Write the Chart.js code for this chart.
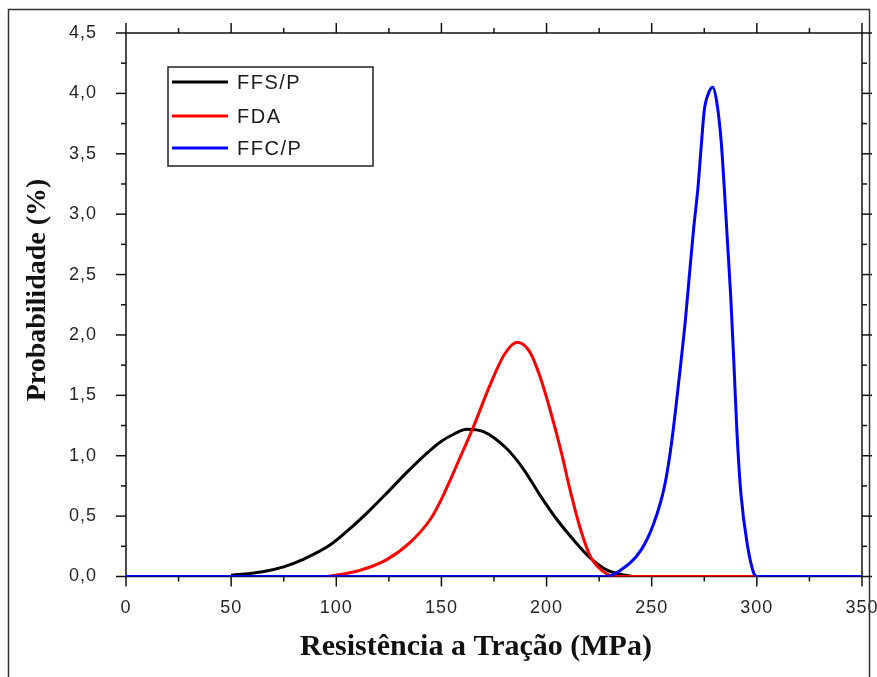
<!DOCTYPE html>
<html>
<head>
<meta charset="utf-8">
<title>Probabilidade x Resistência a Tração</title>
<script src="https://cdn.jsdelivr.net/npm/chart.js@4/dist/chart.umd.min.js"></script>
<style>
  html, body { margin: 0; padding: 0; background: #fff; }
  #wrap { width: 877px; height: 677px; }
</style>
</head>
<body>
<div id="wrap"><canvas id="probChart" width="877" height="677"></canvas></div>
<script>
// --- Data ---
const seriesLabels = ['FFS/P', 'FDA', 'FFC/P'];
const seriesColors = ['#000000', '#ff0000', '#0000ff'];

const ffspX = [50, 65, 75, 84, 97, 108, 116, 124, 134, 143, 150, 156, 162, 170, 181, 189, 197, 205, 213, 221, 229, 235, 241];
const ffspY = [0.01, 0.04, 0.08, 0.14, 0.26, 0.42, 0.55, 0.69, 0.87, 1.02, 1.12, 1.18, 1.22, 1.20, 1.06, 0.89, 0.67, 0.47, 0.30, 0.15, 0.05, 0.02, 0.0];

const fdaX = [96, 111, 124, 135, 145, 150, 158, 165, 173, 180, 186, 192, 197, 202, 207, 211, 216, 221, 227, 233, 300];
const fdaY = [0.0, 0.05, 0.14, 0.28, 0.48, 0.64, 0.95, 1.23, 1.58, 1.84, 1.94, 1.86, 1.65, 1.36, 1.03, 0.73, 0.40, 0.16, 0.04, 0.0, 0.0];

const ffcpX = [0, 228, 235, 245, 251, 256, 259, 261.5, 264, 266, 268, 270, 272, 273.5, 275, 277, 279, 281, 283, 284.5, 286, 287.6, 289, 290.5, 292.4, 295.6, 298.7, 300, 350];
const ffcpY = [0, 0, 0.05, 0.22, 0.44, 0.74, 1.05, 1.40, 1.79, 2.12, 2.51, 2.89, 3.22, 3.55, 3.86, 4.00, 4.05, 3.92, 3.61, 3.22, 2.78, 2.31, 1.80, 1.21, 0.69, 0.25, 0.02, 0, 0];

const xMin = 0, xMax = 350, xMajor = 50, xMinor = 25;
const yMin = 0, yMax = 4.5, yMajor = 0.5, yMinor = 0.25;

const xTitle = 'Resistência a Tração (MPa)';
const yTitle = 'Probabilidade (%)';

const toPoints = (xs, ys) => xs.map((x, i) => ({ x: x, y: ys[i] }));
const seriesData = [toPoints(ffspX, ffspY), toPoints(fdaX, fdaY), toPoints(ffcpX, ffcpY)];

// --- Frame, mirrored ticks (drawn under the curves) ---
const framePlugin = {
    id: 'frame',
    beforeDraw(chart) {
        // slightly spaced tick labels like the original
        if ('letterSpacing' in chart.ctx) chart.ctx.letterSpacing = '1px';
    },
    beforeDatasetsDraw(chart) {
        const ctx = chart.ctx;
        const a = chart.chartArea;
        const xs = chart.scales.x, ys = chart.scales.y;
        ctx.save();
        ctx.strokeStyle = '#333';
        ctx.lineWidth = 1.5;
        ctx.strokeRect(8.5, 9.5, 861, 720);

        ctx.strokeStyle = '#111';
        ctx.strokeRect(a.left, a.top, a.right - a.left, a.bottom - a.top);

        const seg = (x1, y1, x2, y2) => { ctx.beginPath(); ctx.moveTo(x1, y1); ctx.lineTo(x2, y2); ctx.stroke(); };
        for (let v = xMin; v <= xMax + 0.001; v += xMinor) {
            const px = xs.getPixelForValue(v);
            const len = Math.abs(v % xMajor) < 0.001 ? 10 : 5;
            seg(px, a.bottom, px, a.bottom + len);
            seg(px, a.top, px, a.top - len);
        }
        for (let v = yMin; v <= yMax + 0.001; v += yMinor) {
            const py = ys.getPixelForValue(v);
            const len = Math.abs((v / yMajor) - Math.round(v / yMajor)) < 0.001 ? 10 : 5;
            seg(a.left, py, a.left - len, py);
            seg(a.right, py, a.right + len, py);
        }
        ctx.restore();
    }
};

// --- Legend box and axis titles ---
const decorPlugin = {
    id: 'decor',
    afterDraw(chart) {
        const ctx = chart.ctx;
        ctx.save();

        // legend
        ctx.strokeStyle = '#222';
        ctx.lineWidth = 1.5;
        ctx.strokeRect(168, 67, 205, 99);
        ctx.font = '20px "Liberation Sans", Arial, sans-serif';
        ctx.textBaseline = 'middle';
        ctx.textAlign = 'left';
        if ('letterSpacing' in ctx) ctx.letterSpacing = '1.5px';
        const rows = [82, 116, 148];
        chart.data.datasets.forEach((ds, i) => {
            ctx.strokeStyle = ds.borderColor;
            ctx.lineWidth = 3;
            ctx.beginPath();
            ctx.moveTo(172, rows[i]);
            ctx.lineTo(228, rows[i]);
            ctx.stroke();
            ctx.fillStyle = '#1a1a1a';
            ctx.fillText(ds.label, 237, rows[i] + 1);
        });
        if ('letterSpacing' in ctx) ctx.letterSpacing = '0px';

        // axis titles
        ctx.fillStyle = '#111';
        ctx.font = 'bold 30px "Liberation Serif", "Times New Roman", serif';
        ctx.textAlign = 'center';
        ctx.textBaseline = 'middle';
        ctx.fillText(xTitle, 476, 647);

        ctx.translate(38, 290);
        ctx.rotate(-Math.PI / 2);
        ctx.font = 'bold 28px "Liberation Serif", "Times New Roman", serif';
        ctx.fillText(yTitle, 0, 0);
        ctx.restore();
        if ('letterSpacing' in ctx) ctx.letterSpacing = '0px';
    }
};

const tickFont = { family: '"Liberation Sans", Arial, sans-serif', size: 18 };

new Chart(document.getElementById('probChart'), {
    type: 'line',
    data: {
        datasets: seriesLabels.map((label, i) => ({
            label: label,
            data: seriesData[i],
            borderColor: seriesColors[i],
            backgroundColor: seriesColors[i],
            borderWidth: 3,
            pointRadius: 0,
            fill: false,
            cubicInterpolationMode: 'monotone',
            order: 2 - i
        }))
    },
    options: {
        responsive: false,
        animation: false,
        layout: { padding: { left: 0, top: 33, right: 15, bottom: 0 } },
        plugins: { legend: { display: false }, tooltip: { enabled: false } },
        scales: {
            x: {
                type: 'linear',
                min: xMin, max: xMax,
                grid: { display: true, drawOnChartArea: false, drawTicks: true, tickLength: 21, color: 'rgba(0,0,0,0)' },
                border: { display: false },
                ticks: {
                    stepSize: xMajor,
                    padding: 0,
                    color: '#262626',
                    font: tickFont,
                    maxRotation: 0
                },
                afterFit: (scale) => { scale.height = 100.5; }
            },
            y: {
                min: yMin, max: yMax,
                grid: { display: false },
                border: { display: false },
                ticks: {
                    stepSize: yMajor,
                    padding: 21,
                    color: '#262626',
                    font: tickFont,
                    callback: (v) => v.toFixed(1).replace('.', ',')
                },
                afterFit: (scale) => { scale.width = 126; }
            }
        }
    },
    plugins: [framePlugin, decorPlugin]
});
</script>
</body>
</html>
